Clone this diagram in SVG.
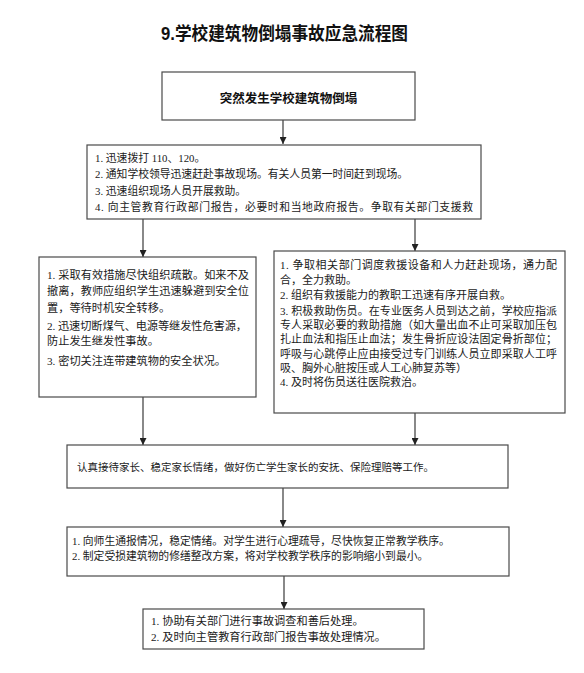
<svg xmlns="http://www.w3.org/2000/svg" width="584" height="673" viewBox="0 0 584 673">
<style>
.box{fill:#fff;stroke:#4a4a4a;stroke-width:1.2}
.t{font-family:"Liberation Serif","Noto Sans CJK SC",serif;fill:#1a1a1a}
.b{font-family:"Liberation Sans","Noto Sans CJK SC",sans-serif;font-weight:bold;fill:#111}
.c{stroke:#3a3a3a;stroke-width:1.2;fill:none}
</style>
<defs>
<marker id="ah" markerUnits="userSpaceOnUse" markerWidth="7" markerHeight="7" refX="7" refY="3.5" orient="auto">
<path d="M0,0 L7,3.5 L0,7 z" fill="#222"/>
</marker>
</defs>
<rect width="584" height="673" fill="#fff"/>
<text class="b" x="161" y="40" font-size="18" textLength="247" lengthAdjust="spacingAndGlyphs">9.学校建筑物倒塌事故应急流程图</text>

<g id="connectors">
<line class="c" x1="283" y1="120" x2="283" y2="144" marker-end="url(#ah)"/>
<line class="c" x1="143" y1="219" x2="143" y2="257" marker-end="url(#ah)"/>
<line class="c" x1="415" y1="219" x2="415" y2="251" marker-end="url(#ah)"/>
<line class="c" x1="143" y1="397" x2="143" y2="445" marker-end="url(#ah)"/>
<line class="c" x1="415" y1="413" x2="415" y2="445" marker-end="url(#ah)"/>
<line class="c" x1="283" y1="488" x2="283" y2="527" marker-end="url(#ah)"/>
<line class="c" x1="284" y1="576" x2="284" y2="609" marker-end="url(#ah)"/>
</g>

<g id="start">
<rect class="box" x="162" y="72" width="253" height="48"/>
<text class="b" x="288.5" y="102.5" font-size="12.5" text-anchor="middle">突然发生学校建筑物倒塌</text>
</g>

<g id="step1">
<rect class="box" x="87" y="145" width="394" height="74"/>
<text class="t" font-size="10.8">
<tspan x="95" y="162">1. 迅速拨打 110、120。</tspan>
<tspan x="95" y="178">2. 通知学校领导迅速赶赴事故现场。有关人员第一时间赶到现场。</tspan>
<tspan x="95" y="195">3. 迅速组织现场人员开展救助。</tspan>
</text>
<text class="t" font-size="10.8" x="95" y="211" textLength="378" lengthAdjust="spacing">4. 向主管教育行政部门报告，必要时和当地政府报告。争取有关部门支援救</text>
</g>

<g id="left">
<rect class="box" x="39" y="257" width="217" height="140"/>
<text class="t" font-size="11.2" x="47" y="279" textLength="202" lengthAdjust="spacing">1. 采取有效措施尽快组织疏散。如来不及</text>
<text class="t" font-size="11.2" x="47" y="295" textLength="202" lengthAdjust="spacing">撤离，教师应组织学生迅速躲避到安全位</text>
<text class="t" font-size="11.2" x="47" y="312">置，等待时机安全转移。</text>
<text class="t" font-size="11.2" x="47" y="330" textLength="200" lengthAdjust="spacing">2. 迅速切断煤气、电源等继发性危害源，</text>
<text class="t" font-size="11.2" x="47" y="345">防止发生继发性事故。</text>
<text class="t" font-size="11.2" x="47" y="365">3. 密切关注连带建筑物的安全状况。</text>
</g>

<g id="right">
<rect class="box" x="274" y="251" width="291" height="162"/>
<text class="t" font-size="11" x="280" y="269" textLength="277" lengthAdjust="spacing">1. 争取相关部门调度救援设备和人力赶赴现场，通力配</text>
<text class="t" font-size="11" x="280" y="284">合，全力救助。</text>
<text class="t" font-size="11" x="280" y="299">2. 组织有救援能力的教职工迅速有序开展自救。</text>
<text class="t" font-size="11" x="280" y="314.5" textLength="277" lengthAdjust="spacing">3. 积极救助伤员。在专业医务人员到达之前，学校应指派</text>
<text class="t" font-size="11" x="280" y="329" textLength="277" lengthAdjust="spacing">专人采取必要的救助措施（如大量出血不止可采取加压包</text>
<text class="t" font-size="11" x="280" y="343" textLength="277" lengthAdjust="spacing">扎止血法和指压止血法；发生骨折应设法固定骨折部位；</text>
<text class="t" font-size="11" x="280" y="357.5" textLength="277" lengthAdjust="spacing">呼吸与心跳停止应由接受过专门训练人员立即采取人工呼</text>
<text class="t" font-size="11" x="280" y="371.5">吸、胸外心脏按压或人工心肺复苏等）</text>
<text class="t" font-size="11" x="280" y="385.5">4. 及时将伤员送往医院救治。</text>
</g>

<g id="parents">
<rect class="box" x="67" y="445" width="441" height="43"/>
<text class="t" font-size="10.5" x="77" y="471">认真接待家长、稳定家长情绪，做好伤亡学生家长的安抚、保险理赔等工作。</text>
</g>

<g id="recovery">
<rect class="box" x="67" y="527" width="442" height="49"/>
<text class="t" font-size="10.8" x="72" y="545">1. 向师生通报情况，稳定情绪。对学生进行心理疏导，尽快恢复正常教学秩序。</text>
<text class="t" font-size="10.8" x="72" y="560">2. 制定受损建筑物的修缮整改方案，将对学校教学秩序的影响缩小到最小。</text>
</g>

<g id="aftermath">
<rect class="box" x="143" y="609" width="281" height="40"/>
<text class="t" font-size="11.2" x="151" y="625">1. 协助有关部门进行事故调查和善后处理。</text>
<text class="t" font-size="11.2" x="151" y="641">2. 及时向主管教育行政部门报告事故处理情况。</text>
</g>
</svg>
